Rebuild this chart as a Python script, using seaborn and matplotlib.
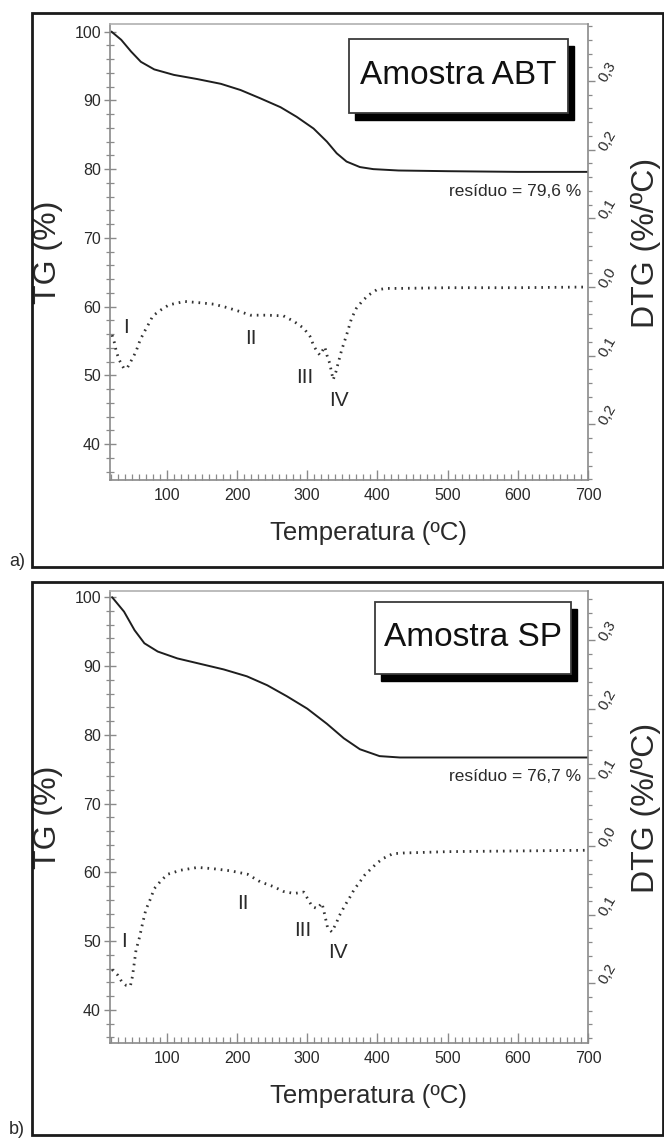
import numpy as np
import matplotlib
matplotlib.use("Agg")
import matplotlib.pyplot as plt
from matplotlib.patches import Rectangle
from matplotlib.ticker import MultipleLocator, FixedLocator, FuncFormatter
import seaborn as sns

# ---------------- data ----------------
tg_abt_temp = [21, 35, 49, 63, 82, 110, 143, 177, 205, 233, 262, 285, 309, 328, 342, 356, 375, 394, 430, 500, 600, 700]
tg_abt = [100, 98.8, 97.1, 95.6, 94.5, 93.7, 93.1, 92.4, 91.5, 90.3, 89.0, 87.6, 85.9, 84.0, 82.3, 81.1, 80.3, 80.0, 79.8, 79.7, 79.6, 79.6]

dtg_abt_temp = [22, 25, 28, 32, 39, 44, 51, 56, 62, 68, 75, 80, 92, 103, 125, 148, 167, 186, 205, 219, 243, 266, 281,
                295, 304, 309, 314, 318, 325, 328, 332, 335, 337, 341, 344, 349, 356, 363, 370, 378, 387, 399, 413,
                432, 500, 600, 700]
dtg_abt = [-0.070, -0.080, -0.094, -0.106, -0.119, -0.117, -0.104, -0.094, -0.077, -0.065, -0.052, -0.042, -0.033,
           -0.026, -0.021, -0.023, -0.025, -0.030, -0.036, -0.041, -0.041, -0.042, -0.050, -0.060, -0.072, -0.085,
           -0.094, -0.099, -0.087, -0.099, -0.111, -0.126, -0.135, -0.123, -0.111, -0.092, -0.070, -0.046, -0.031,
           -0.021, -0.012, -0.004, -0.002, -0.002, -0.001, -0.001, 0.000]

tg_sp_temp = [22, 39, 54, 68, 87, 115, 148, 181, 214, 243, 271, 300, 328, 352, 375, 403, 432, 500, 600, 700]
tg_sp = [100, 97.9, 95.2, 93.3, 92.1, 91.1, 90.3, 89.5, 88.5, 87.2, 85.6, 83.8, 81.6, 79.5, 77.9, 76.9, 76.7, 76.7, 76.7, 76.7]

dtg_sp_temp = [22, 30, 36, 42, 48, 51, 56, 61, 66, 70, 77, 82, 92, 101, 120, 144, 167, 191, 215, 233, 252, 266, 281,
               295, 302, 307, 314, 321, 324, 326, 329, 335, 341, 347, 354, 361, 367, 375, 382, 389, 399, 408, 422,
               437, 500, 600, 700]
dtg_sp = [-0.180, -0.188, -0.198, -0.203, -0.204, -0.190, -0.152, -0.133, -0.110, -0.093, -0.076, -0.062, -0.050,
          -0.041, -0.035, -0.031, -0.033, -0.036, -0.041, -0.052, -0.059, -0.066, -0.069, -0.067, -0.079, -0.088,
          -0.091, -0.083, -0.096, -0.105, -0.119, -0.125, -0.113, -0.099, -0.086, -0.074, -0.063, -0.052, -0.042,
          -0.035, -0.025, -0.018, -0.011, -0.010, -0.008, -0.007, -0.006]

x_ticks = [100, 200, 300, 400, 500, 600, 700]
tg_ticks = [40, 50, 60, 70, 80, 90, 100]
dtg_ticks = [-0.2, -0.1, 0.0, 0.1, 0.2, 0.3]
numerals = ["I", "II", "III", "IV"]
titles = ["Amostra ABT", "Amostra SP"]
residues = ["resíduo = 79,6 %", "resíduo = 76,7 %"]
tags = ["a)", "b)"]

# ---------------- style ----------------
sns.set_style("ticks")
plt.rcParams["font.family"] = ["Liberation Sans", "DejaVu Sans"]

SPINE = "#8a8a8a"
TXT = "#2a2a2a"

fig = plt.figure(figsize=(6.64, 11.4), dpi=100)
W, H = 664.0, 1140.0


def panel(px_top, px_bot, temp_tg, tg, temp_dtg, dtg, ylim_tg, ylim_dtg, title, residue, res_y,
          box, num_pos, frame, tag, tag_y):
    left, right = 110, 588
    ax = fig.add_axes([left / W, 1 - px_bot / H, (right - left) / W, (px_bot - px_top) / H])
    sns.lineplot(x=temp_tg, y=tg, ax=ax, color="#1e1e1e", lw=1.4)
    ax2 = ax.twinx()
    sns.lineplot(x=temp_dtg, y=dtg, ax=ax2, color="#333333", lw=2.0, linestyle=(0, (0.6, 1.8)))

    ax.set_xlim(19, 700)
    ax.set_ylim(*ylim_tg)
    ax2.set_ylim(*ylim_dtg)

    for a in (ax, ax2):
        for s in a.spines.values():
            s.set_color(SPINE)
            s.set_linewidth(1.2)
    ax2.spines["left"].set_visible(False)
    ax2.spines["top"].set_visible(False)
    ax2.spines["bottom"].set_visible(False)
    ax.spines["right"].set_visible(False)
    ax.spines["top"].set_color("#b0b0b0")

    # x axis
    ax.xaxis.set_major_locator(FixedLocator(x_ticks))
    ax.xaxis.set_minor_locator(MultipleLocator(10))
    ax.tick_params(axis="x", which="major", direction="in", length=7, width=1.0, color=SPINE,
                   labelsize=11.5, labelcolor=TXT, pad=6)
    ax.tick_params(axis="x", which="minor", direction="in", length=4, width=0.9, color=SPINE)
    # left axis
    ax.yaxis.set_major_locator(FixedLocator(tg_ticks))
    ax.yaxis.set_minor_locator(MultipleLocator(2))
    ax.tick_params(axis="y", which="major", direction="inout", length=9, width=1.0, color=SPINE,
                   labelsize=11.5, labelcolor=TXT, pad=2)
    ax.tick_params(axis="y", which="minor", direction="inout", length=6, width=0.9, color=SPINE)
    # right axis
    ax2.yaxis.set_major_locator(FixedLocator(dtg_ticks))
    ax2.yaxis.set_minor_locator(MultipleLocator(0.02))
    ax2.yaxis.set_major_formatter(FuncFormatter(lambda v, p: f"{abs(v):.1f}".replace(".", ",")))
    ax2.tick_params(axis="y", which="major", direction="out", length=5, width=1.0, color=SPINE,
                    labelsize=11, labelcolor=TXT, pad=5)
    ax2.tick_params(axis="y", which="minor", direction="out", length=3, width=0.9, color=SPINE)
    for lab in ax2.get_yticklabels():
        lab.set_rotation(60)
        lab.set_rotation_mode("anchor")
        lab.set_ha("left")
        lab.set_va("center")

    ax.set_xlabel("Temperatura (ºC)", fontsize=18.5, color=TXT)
    ax.xaxis.set_label_coords(0.54, -0.09)
    ax.set_ylabel("TG (%)", fontsize=23, color=TXT)
    ax.yaxis.set_label_coords(-0.098, 0.5)
    ax2.set_ylabel("DTG (%/ºC)", fontsize=23, color=TXT, rotation=90)
    ax2.yaxis.set_label_coords(1.09, 0.52)

    # sample box with shadow
    x0, x1, y1, y0 = box
    bw, bh = x1 - x0, y0 - y1
    aw, ah = right - left, px_bot - px_top
    ax.add_patch(Rectangle(((x0 + 6 - left) / aw, (px_bot - (y0 + 7)) / ah), bw / aw, bh / ah,
                           transform=ax.transAxes, facecolor="black", edgecolor="black",
                           zorder=5, clip_on=False))
    ax.add_patch(Rectangle(((x0 - left) / aw, (px_bot - y0) / ah), bw / aw, bh / ah,
                           transform=ax.transAxes, facecolor="white", edgecolor="#3a3a3a", lw=1.3,
                           zorder=6, clip_on=False))
    ax.text(((x0 + x1) / 2 - left) / aw, (px_bot - (y0 + y1) / 2) / ah, title,
            transform=ax.transAxes, ha="center", va="center", fontsize=24,
            color="#111111", zorder=7)

    ax.text((581 - left) / aw, (px_bot - res_y) / ah, residue,
            transform=ax.transAxes, ha="right", va="center", fontsize=12.5, color=TXT)

    for lab, (nx, ny) in zip(numerals, num_pos):
        ax.text(nx, ny, lab, ha="center", va="center", fontsize=15, color=TXT)

    fx0, fy0, fx1, fy1 = frame
    fig.patches.append(Rectangle((fx0 / W, 1 - fy1 / H), (fx1 - fx0) / W, (fy1 - fy0) / H,
                                 transform=fig.transFigure, fill=False, edgecolor="#1a1a1a", lw=2.0))
    fig.text(17 / W, 1 - tag_y / H, tag, ha="center", va="center", fontsize=13, color=TXT)
    return ax, ax2


panel(24, 480, tg_abt_temp, tg_abt, dtg_abt_temp, dtg_abt, (34.8, 101.1), (-0.281, 0.383),
      titles[0], residues[0], 192, (349, 568, 39, 113),
      [(42, 57.0), (219, 55.4), (297, 49.7), (345, 46.4)],
      (32, 13, 663, 567), tags[0], 561)

panel(591, 1043, tg_sp_temp, tg_sp, dtg_sp_temp, dtg_sp, (35.2, 100.9), (-0.287, 0.372),
      titles[1], residues[1], 777, (375, 571, 602, 674),
      [(39, 49.9), (208, 55.5), (294, 51.6), (344, 48.3)],
      (32, 582, 663, 1135), tags[1], 1130)

fig.savefig("out.png", dpi=100)
